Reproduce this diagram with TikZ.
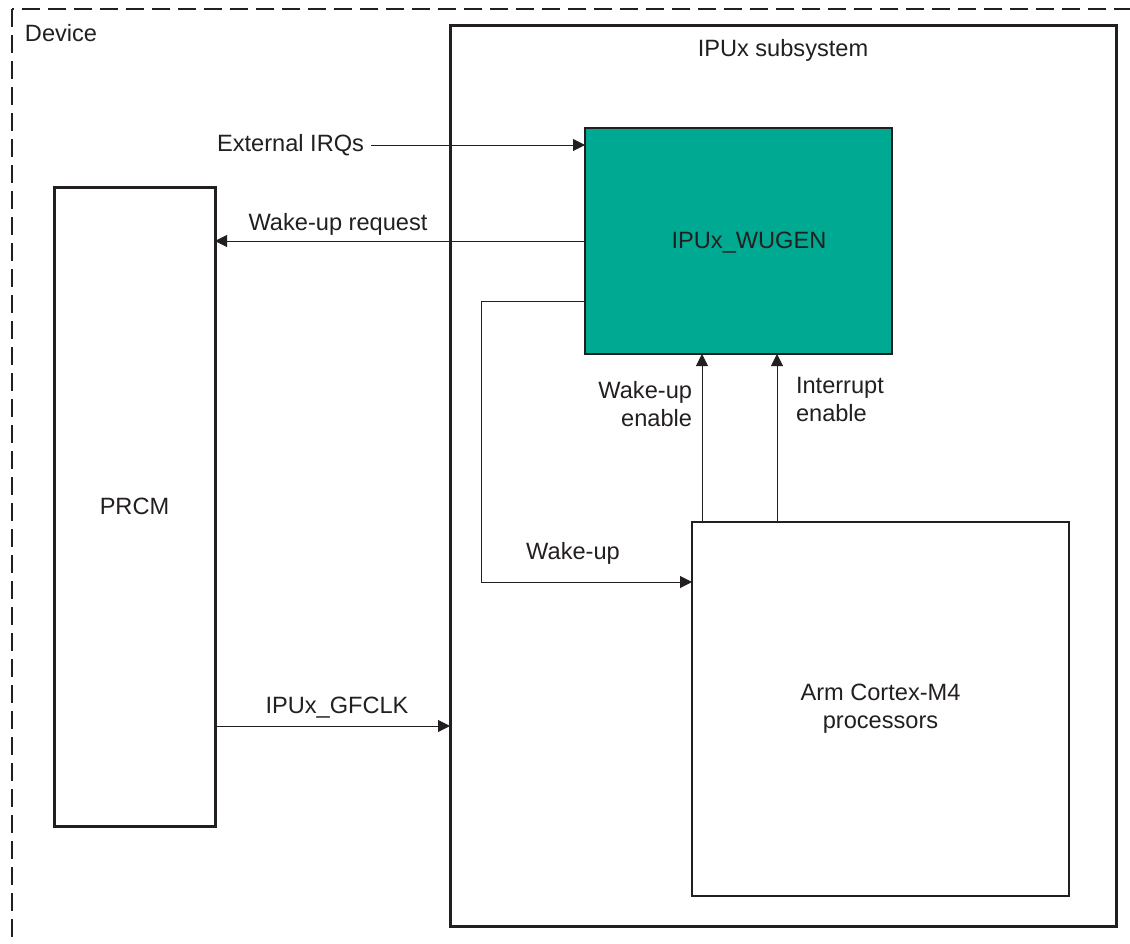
\documentclass[tikz,border=0pt]{standalone}
\usepackage{fontspec}
\setmainfont{Liberation Sans}
\usetikzlibrary{arrows.meta}
\definecolor{wugen}{RGB}{0,169,145}
\definecolor{ink}{RGB}{35,31,32}
\begin{document}
\begin{tikzpicture}[x=0.5pt,y=-0.5pt,
  every node/.style={font=\fontsize{11.8}{14}\selectfont, text=ink, inner sep=0pt, outer sep=0pt},
  box/.style={draw=ink, anchor=north west, align=center},
  thickbox/.style={box, line width=1.5pt},
  thinbox/.style={box, line width=1pt},
  conn/.style={draw=ink, line width=0.5pt, -{Triangle[length=6pt,width=6pt]}}]
\useasboundingbox (0,0) rectangle (1130,943);
\begin{scope}
\clip (0,0) rectangle (1130,943);
\draw[ink, line width=1.1pt, dash pattern=on 9pt off 4pt] (12,9) rectangle (1150,965);
\end{scope}
\node[anchor=west] (device) at (25,33) {Device};
\node[thickbox, minimum width=333pt, minimum height=450.5pt] (sub) at (450,25) {};
\node (sublbl) at (783,50) {IPUx subsystem};
\node[thinbox, fill=wugen, minimum width=153.5pt, minimum height=113pt] (wg) at (585,128) {};
\node (wglbl) at (749,243) {IPUx\_WUGEN};
\node[thickbox, minimum width=80.5pt, minimum height=319.5pt] (prcm) at (54,187) {PRCM};
\node[thinbox, minimum width=188.5pt, minimum height=187pt] (arm) at (692,522) {Arm Cortex-M4\\processors};
\node[anchor=east] (ext) at (364,145) {External IRQs};
\draw[conn] ([xshift=3.5pt]ext.east) -- (wg.west |- ext.east);
\draw[conn] (wg.west) -- (prcm.east |- wg.west);
\node (wurlbl) at (338,224) {Wake-up request};
\coordinate (wk) at (481,582);
\draw[conn] ([yshift=-30pt]wg.west) -| (wk) -- (arm.west |- wk);
\node (wklbl) at (573,553) {Wake-up};
\draw[conn] ([xshift=5pt]arm.north west) -- ([xshift=5pt]arm.north west |- wg.south);
\draw[conn] ([xshift=42.5pt]arm.north west) -- ([xshift=42.5pt]arm.north west |- wg.south);
\node[anchor=east, align=right] (wuen) at (692,404) {Wake-up\\enable};
\node[anchor=west, align=left] (inten) at (796,399) {Interrupt\\enable};
\coordinate (gf) at (0,726);
\draw[conn] (prcm.east |- gf) -- (sub.west |- gf);
\node (gflbl) at (337,708) {IPUx\_GFCLK};
\end{tikzpicture}
\end{document}
